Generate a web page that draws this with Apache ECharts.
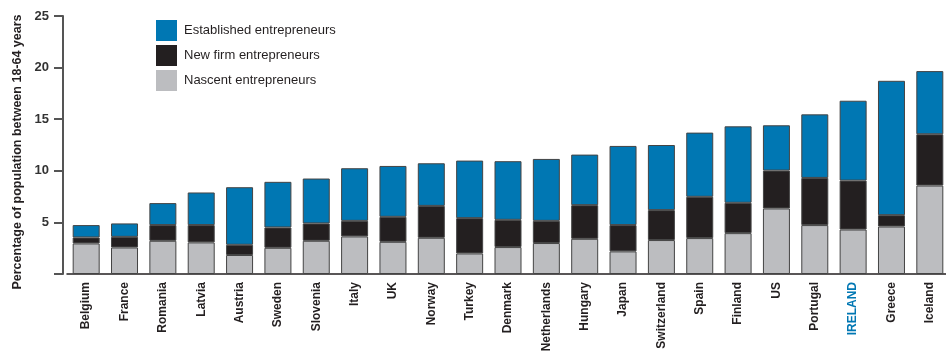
<!DOCTYPE html>
<html style="height: 100%">
<head>
    <meta charset="utf-8">
    <title>Entrepreneurship rates</title>
</head>
<body style="height: 100%; margin: 0; background: #fff">
<div id="container" style="width: 946px; height: 356px"></div>
<script type="text/javascript" src="https://cdn.jsdelivr.net/npm/echarts@6/dist/echarts.min.js"></script>
<script type="text/javascript">
    var countries = ['Belgium', 'France', 'Romania', 'Latvia', 'Austria', 'Sweden', 'Slovenia', 'Italy', 'UK',
        'Norway', 'Turkey', 'Denmark', 'Netherlands', 'Hungary', 'Japan', 'Switzerland', 'Spain', 'Finland',
        'US', 'Portugal', 'IRELAND', 'Greece', 'Iceland'];
    var nascent = [2.96, 2.57, 3.22, 3.06, 1.84, 2.54, 3.22, 3.64, 3.12, 3.51, 1.99, 2.61, 3.0, 3.41, 2.19,
        3.29, 3.48, 3.96, 6.35, 4.74, 4.31, 4.6, 8.57];
    var newFirm = [0.58, 1.03, 1.52, 1.68, 0.99, 1.97, 1.68, 1.51, 2.42, 3.09, 3.42, 2.64, 2.15, 3.26, 2.55,
        2.9, 4.0, 2.94, 3.67, 4.57, 4.74, 1.1, 4.97];
    var established = [1.2, 1.3, 2.13, 3.16, 5.58, 4.42, 4.35, 5.1, 4.93, 4.13, 5.58, 5.68, 6.0, 4.9, 7.67,
        6.31, 6.22, 7.41, 4.39, 6.16, 7.74, 13.02, 6.12];
    var yTicks = [0, 5, 10, 15, 20, 25];

    var font = '"Liberation Sans", Arial, sans-serif';
    var blue = '#0077b3';

    function barSeries(name, data, color) {
        return {
            name: name,
            type: 'bar',
            stack: 'total',
            barWidth: 27,
            data: data,
            itemStyle: {color: color, borderColor: '#444', borderWidth: 1}
        };
    }

    var myChart = echarts.init(document.getElementById('container'));
    var option = {
        animation: false,
        textStyle: {fontFamily: font},
        grid: {left: 67, top: 16, width: 882, bottom: 82, containLabel: false, outerBoundsMode: 'none'},
        legend: {
            orient: 'vertical',
            left: 151,
            top: 15,
            icon: 'rect',
            itemWidth: 21,
            itemHeight: 21,
            itemGap: 4,
            data: ['Established entrepreneurs', 'New firm entrepreneurs', 'Nascent entrepreneurs'],
            textStyle: {fontFamily: font, fontSize: 13, color: '#231f20', padding: [0, 0, 0, 2]},
            itemStyle: {borderWidth: 0}
        },
        xAxis: {
            type: 'category',
            data: countries,
            axisLine: {lineStyle: {color: '#231f20', width: 1.5}},
            axisTick: {show: false},
            axisLabel: {
                rotate: 90,
                margin: 8,
                fontFamily: font,
                fontWeight: 'bold',
                fontSize: 12,
                color: function (v) { return v === 'IRELAND' ? blue : '#231f20'; }
            }
        },
        yAxis: {
            type: 'value',
            min: yTicks[0],
            max: yTicks[yTicks.length - 1],
            interval: 5,
            offset: 4,
            name: 'Percentage of population between 18-64 years',
            nameLocation: 'middle',
            nameGap: 33,
            nameTextStyle: {fontFamily: font, fontWeight: 'bold', fontSize: 12.5, color: '#231f20',
                padding: [0, 14, 0, 0]},
            axisLine: {show: true, lineStyle: {color: '#555', width: 2}},
            axisTick: {show: true, length: 9, lineStyle: {color: '#555', width: 2}},
            splitLine: {show: false},
            axisLabel: {
                margin: 14,
                fontFamily: font,
                fontWeight: 'bold',
                fontSize: 13,
                color: '#333',
                formatter: function (v) { return v === 0 ? '' : v; }
            }
        },
        series: [
            barSeries('Nascent entrepreneurs', nascent, '#bcbdc0'),
            barSeries('New firm entrepreneurs', newFirm, '#231f20'),
            barSeries('Established entrepreneurs', established, blue)
        ]
    };
    myChart.setOption(option);
</script>
</body>
</html>
